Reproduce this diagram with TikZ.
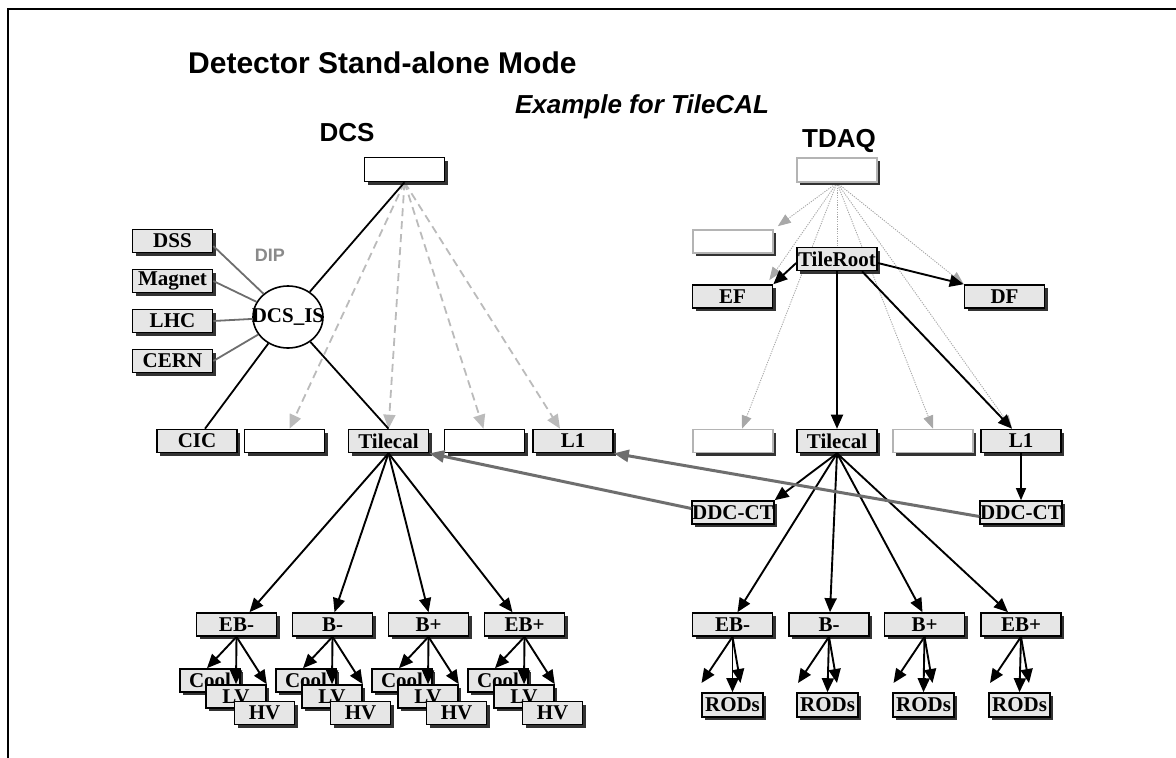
\documentclass[tikz,border=0pt]{standalone}
\usepackage{fontspec}
\setmainfont{Liberation Serif}
\setsansfont{Liberation Sans}
\usetikzlibrary{arrows.meta,shadows,shapes.geometric}
\definecolor{boxfill}{HTML}{E6E6E6}
\definecolor{shadowc}{HTML}{333333}
\definecolor{lightedge}{HTML}{B4B4B4}
\definecolor{dashc}{HTML}{BBBBBB}
\definecolor{dotc}{HTML}{A8A8A8}
\definecolor{linkc}{HTML}{6E6E6E}
\definecolor{dipc}{HTML}{8A8A8A}
\pgfdeclarelayer{bg}
\pgfsetlayers{bg,main}
\newcommand\bxfont{\fontsize{21}{21}\selectfont\bfseries}
\begin{document}
\begin{tikzpicture}[x=1pt,y=-1pt,
 every node/.style={inner sep=0pt},
 shad/.style={drop shadow={shadow xshift=3pt,shadow yshift=-3pt,fill=shadowc,opacity=1}},
 box/.style={draw=black,line width=1.6pt,fill=boxfill,minimum width=80pt,minimum height=23pt,font=\bxfont,shad},
 blank/.style={box,fill=white},
 gblank/.style={blank,draw=lightedge},
 sbox/.style={box,minimum width=60pt},
 conn/.style={line width=1.9pt,-{Triangle[length=14pt,width=12pt]}},
 solidline/.style={line width=1.8pt},
 dashedarr/.style={dashc,line width=1.8pt,dash pattern=on 8pt off 5pt,-{Triangle[length=14pt,width=12pt]}},
 dotarr/.style={dotc,line width=0.9pt,dash pattern=on 1.2pt off 1.2pt,-{Triangle[length=13pt,width=10pt]}},
 diplink/.style={linkc,line width=1.8pt},
 bigarr/.style={linkc,line width=3pt,-{Triangle[length=15pt,width=12pt]}},
 heading/.style={font=\sffamily\bfseries\fontsize{26}{26}\selectfont}
]
\useasboundingbox (0,0) rectangle (1176,758);
\draw[line width=2pt] (8,758) -- (8,9) -- (1176,9);

% headings
\node[font=\sffamily\bfseries\fontsize{30}{30}\selectfont,anchor=base west] (title) at (188,73) {Detector Stand-alone Mode};
\node[font=\sffamily\bfseries\itshape\fontsize{26}{26}\selectfont,anchor=base] (example) at (642,113) {Example for TileCAL};
\node[heading,anchor=base] (dcs) at (347,141) {DCS};
\node[heading,anchor=base] (tdaq) at (839,147) {TDAQ};
\node[font=\sffamily\bfseries\fontsize{18}{18}\selectfont,text=dipc] (diplbl) at (270,255) {DIP};

% DCS side
\node[blank,minimum height=24pt] (dcsroot) at (404.5,169.5) {};
\node[box] (dss) at (172.5,241) {DSS};
\node[box] (magnet) at (172.5,281) {Magnet};
\node[box] (lhc) at (172.5,321) {LHC};
\node[box] (cern) at (172.5,361) {CERN};
\node[ellipse,draw=black,line width=1.6pt,fill=white,minimum width=70pt,minimum height=62pt,font=\bxfont] (dcsis) at (288,317) {\makebox[0pt]{DCS\_IS}};
\node[box] (cic) at (197,441) {CIC};
\node[blank] (dblank1) at (284.5,441) {};
\node[box] (dtile) at (388.5,441) {Tilecal};
\node[blank] (dblank2) at (484.5,441) {};
\node[box] (dl1) at (573,441) {L1};

% TDAQ side
\node[gblank,minimum height=24pt] (tdaqroot) at (837,170) {};
\node[gblank] (tblank0) at (733,241.5) {};
\node[box] (tileroot) at (837,259) {TileRoot};
\node[box] (ef) at (732.5,296.5) {EF};
\node[box] (df) at (1004.5,296.5) {DF};
\node[gblank] (tblank1) at (733,441) {};
\node[box] (ttile) at (837,441) {Tilecal};
\node[gblank] (tblank2) at (933,441) {};
\node[box] (tl1) at (1021,441) {L1};
\node[box] (ddcl) at (733,512.5) {DDC-CT};
\node[box] (ddcr) at (1021,512.5) {DDC-CT};

% background connectors
\begin{pgfonlayer}{bg}
\draw[dashedarr] (dcsroot.south) -- ([xshift=5pt]dblank1.north);
\draw[dashedarr] (dcsroot.south) -- (dtile.north);
\draw[dashedarr] (dcsroot.south) -- ([xshift=-1pt]dblank2.north);
\draw[dashedarr] (dcsroot.south) -- ([xshift=-13pt]dl1.north);
\draw[dotarr] (tdaqroot.south) -- ([xshift=4pt,yshift=3pt]tblank0.north east);
\draw[dotarr] (tdaqroot.south) -- ([xshift=-4pt,yshift=4pt]ef.north east);
\draw[dotarr] (tdaqroot.south) -- (df.north west);
\draw[dotarr] (tdaqroot.south) -- ([xshift=9pt]tblank1.north);
\draw[dotarr] (tdaqroot.south) -- (ttile.north);
\draw[dotarr] (tdaqroot.south) -- (tblank2.north);
\draw[dotarr] (tdaqroot.south) -- ([xshift=-9pt]tl1.north);
\end{pgfonlayer}

% DCS connectors
\draw[solidline] (dcsroot.south) -- (dcsis);
\draw[solidline] (dcsis) -- ([xshift=8pt]cic.north);
\draw[solidline] (dcsis) -- (dtile.north);
\draw[diplink] ([yshift=-5pt]dss.east) -- (dcsis);
\draw[diplink] (magnet.east) -- (dcsis);
\draw[diplink] (lhc.east) -- (dcsis);
\draw[diplink] (cern.east) -- (dcsis);

% DCS detector groups
\foreach \nm/\lab/\xa in {debm/EB-/236.5, dbm/B-/332.5, dbp/B+/428.5, debp/EB+/524.5} {
  \node[box] (\nm) at (\xa,624.5) {\lab};
  \node[sbox] (\nm-cool) at (\xa-26.5,680.5) {Cool};
  \node[sbox] (\nm-lv) at (\xa-0.5,696.5) {LV};
  \draw[conn] (\nm.south) -- ([xshift=-3pt]\nm-cool.north);
  \draw[conn] (\nm.south) -- (\nm-lv.north);
  \draw[conn] (\nm.south) -- (\nm-lv.north east);
  \node[sbox] (\nm-hv) at (\xa+28,713) {HV};
}
\draw[conn] (dtile.south) -- ([xshift=13pt]debm.north);
\draw[conn] (dtile.south) -- ([xshift=2pt]dbm.north);
\draw[conn] (dtile.south) -- (dbp.north);
\draw[conn] (dtile.south) -- ([xshift=-12pt]debp.north);

% TDAQ connectors
\draw[conn] ([yshift=-4pt]tileroot.west) -- (ef.north east);
\draw[conn] ([yshift=-4pt]tileroot.east) -- (df.north west);
\draw[conn] (tileroot.south) -- (ttile.north);
\draw[conn] ([xshift=25pt]tileroot.south) -- ([xshift=-9pt]tl1.north);
\draw[line width=1.2pt,-{Triangle[length=12pt,width=10pt]}] (tl1.south) -- (ddcr.north);
\draw[conn] (ttile.south) -- (ddcl.north east);

% TDAQ detector groups
\foreach \nm/\lab/\xa/\xb in {tebm/EB-/732.5/732.5, tbm/B-/829/827.5, tbp/B+/924.5/923.5, tebp/EB+/1021/1019.5} {
  \node[box] (\nm) at (\xa,624.5) {\lab};
  \node[box,minimum width=61pt,minimum height=24pt] (\nm-rods) at (\xb,705) {RODs};
  \coordinate (\nm-left) at (\xa-31,683);
  \coordinate (\nm-right) at (\xa+8,683);
  \draw[conn] (\nm.south) -- (\nm-left);
  \draw[conn] (\nm.south) -- (\nm-rods.north);
  \draw[conn] (\nm.south) -- (\nm-right);
}
\draw[conn] (ttile.south) -- ([xshift=5pt]tebm.north);
\draw[conn] (ttile.south) -- ([xshift=1pt]tbm.north);
\draw[conn] (ttile.south) -- ([xshift=-2pt]tbp.north);
\draw[conn] (ttile.south) -- ([xshift=-13pt]tebp.north);

% big gray arrows
\draw[bigarr] ([yshift=4pt]ddcl.west) -- (dtile.south east);
\draw[bigarr] ([yshift=-4pt]ddcr.west) -- (dl1.south east);
\end{tikzpicture}
\end{document}
